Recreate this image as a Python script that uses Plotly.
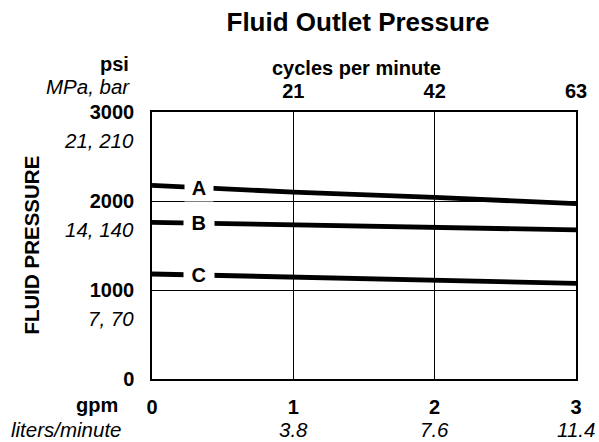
import numpy as np
import plotly.graph_objects as go

# Flow in gpm and outlet pressure (psi) for the three pump settings
gpm = [0, 1, 2, 3]
pressure_a = [2175, 2100, 2040, 1970]
pressure_b = [1760, 1735, 1705, 1675]
pressure_c = [1180, 1145, 1115, 1075]
curve_names = ["A", "B", "C"]

# Axis tick labels
psi_ticks = [0, 1000, 2000, 3000]
metric_ticks = ["", "7, 70", "14, 140", "21, 210"]
gpm_ticks = ["0", "1", "2", "3"]
lpm_ticks = ["", "3.8", "7.6", "11.4"]
cpm_vals = [1, 2, 3]
cpm_ticks = ["21", "42", "63"]

FONT = "Liberation Sans, Arial, Helvetica, sans-serif"
BOLD = 20
ITAL = 20.5
label_pos = 0.33  # where the curve letters sit along the flow axis

fig = go.Figure()

for name, ys in zip(curve_names, [pressure_a, pressure_b, pressure_c]):
    fig.add_trace(go.Scatter(x=gpm, y=ys, mode="lines",
                             line=dict(color="black", width=4.8),
                             name=name, showlegend=False, hoverinfo="skip"))
    fig.add_annotation(x=label_pos, y=float(np.interp(label_pos, gpm, ys)),
                       xref="x", yref="y", text=" " + name + " ", showarrow=False,
                       bgcolor="white", borderpad=2,
                       font=dict(family=FONT, size=BOLD, color="black", weight="bold"))

# invisible trace so the top (cycles per minute) axis is drawn
fig.add_trace(go.Scatter(x=[0, 3], y=[0, 0], xaxis="x2", mode="lines",
                         line=dict(width=0), showlegend=False, hoverinfo="skip"))

fig.update_layout(
    width=599, height=442,
    margin=dict(l=152, r=21, t=112, b=63),
    paper_bgcolor="white", plot_bgcolor="white",
    font=dict(family=FONT, color="black"),
    title=dict(text="<b>Fluid Outlet Pressure</b>", x=358 / 599, xanchor="center",
               y=1 - 22 / 442, yanchor="middle",
               font=dict(family=FONT, size=26, color="black")),
    xaxis=dict(range=[0, 3], tickvals=gpm, ticktext=gpm_ticks,
               showgrid=True, gridcolor="black", gridwidth=1,
               showline=True, linecolor="black", linewidth=1.5, mirror=True,
               ticks="", ticklabelstandoff=9, zeroline=False,
               tickfont=dict(family=FONT, size=BOLD, color="black", weight="bold")),
    xaxis2=dict(range=[0, 3], overlaying="x", side="top", anchor="y",
                tickvals=cpm_vals, ticktext=cpm_ticks, showgrid=False,
                ticks="", ticklabelstandoff=9, zeroline=False, showline=False,
                tickfont=dict(family=FONT, size=BOLD, color="black", weight="bold")),
    yaxis=dict(range=[0, 3000], tickvals=psi_ticks, ticktext=[str(v) for v in psi_ticks],
               showgrid=True, gridcolor="black", gridwidth=1,
               showline=True, linecolor="black", linewidth=1.5, mirror=True,
               ticks="", ticklabelstandoff=12, zeroline=False,
               tickfont=dict(family=FONT, size=BOLD, color="black", weight="bold")),
)

ital = dict(family=FONT, size=ITAL, color="black", style="italic")
bold = dict(family=FONT, size=BOLD, color="black", weight="bold")

# metric pressure labels under each psi tick
for v, t in zip(psi_ticks, metric_ticks):
    if t:
        fig.add_annotation(x=0, y=v, xref="paper", yref="y", text=t, showarrow=False,
                           xanchor="right", yanchor="middle", xshift=-16, yshift=-28,
                           font=ital)

# liters per minute labels under each gpm tick
for v, t in zip(gpm, lpm_ticks):
    if t:
        fig.add_annotation(x=v, y=0, xref="x", yref="paper", text=t, showarrow=False,
                           xanchor="center", yanchor="middle", yshift=-50, font=ital)

# unit captions
fig.add_annotation(x=0, y=1, xref="paper", yref="paper", text="psi", showarrow=False,
                   xanchor="right", yanchor="middle", xshift=-21, yshift=48, font=bold)
fig.add_annotation(x=0, y=1, xref="paper", yref="paper", text="MPa, bar", showarrow=False,
                   xanchor="right", yanchor="middle", xshift=-20, yshift=26, font=ital)
fig.add_annotation(x=0, y=0, xref="paper", yref="paper", text="gpm", showarrow=False,
                   xanchor="right", yanchor="middle", xshift=-32, yshift=-26, font=bold)
fig.add_annotation(x=0, y=0, xref="paper", yref="paper", text="liters/minute",
                   showarrow=False, xanchor="right", yanchor="middle",
                   xshift=-28, yshift=-50, font=ital)
fig.add_annotation(x=(357 - 152) / 426, y=1, xref="paper", yref="paper",
                   text="cycles per minute", showarrow=False,
                   xanchor="center", yanchor="middle", yshift=44, font=bold)
fig.add_annotation(x=0, y=0.5, xref="paper", yref="paper", text="FLUID PRESSURE",
                   showarrow=False, textangle=-90, xanchor="center", yanchor="middle",
                   xshift=-121, font=dict(family=FONT, size=20.5, color="black", weight="bold"))

fig.write_html("out.html")
